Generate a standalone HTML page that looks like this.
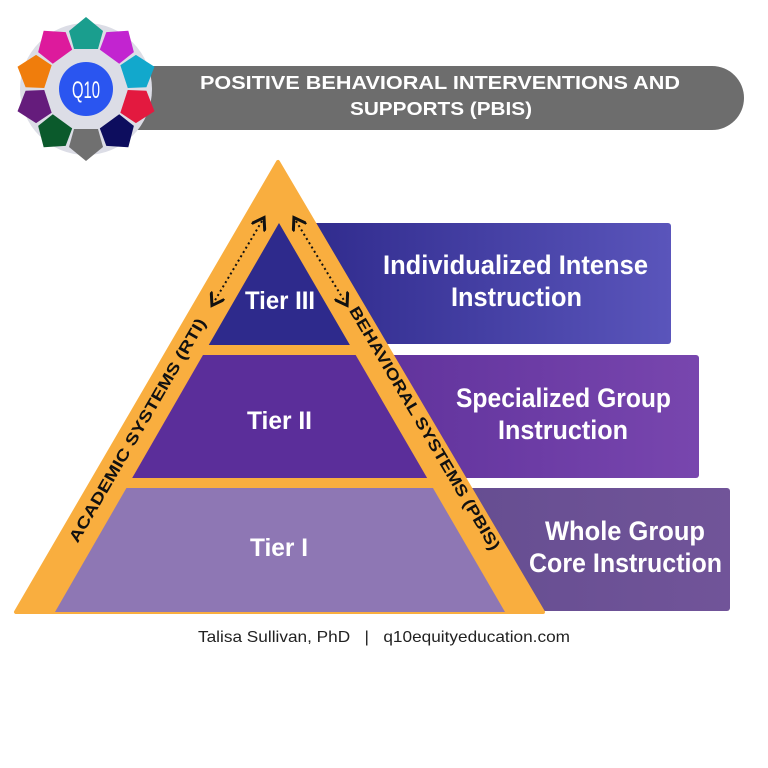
<!DOCTYPE html>
<html><head><meta charset="utf-8"><style>
html,body{margin:0;padding:0;background:#fff;width:768px;height:768px;overflow:hidden}
svg{display:block}
.t{font-family:"Liberation Sans",sans-serif;font-weight:bold;fill:#fff}
.s{font-family:"Liberation Sans",sans-serif;font-weight:bold;fill:#111;font-size:16px}
</style></head><body>
<svg width="768" height="768" viewBox="0 0 768 768" xmlns="http://www.w3.org/2000/svg">
<defs>
<linearGradient id="g1" x1="0" x2="1"><stop offset="0" stop-color="#2f2a8c"/><stop offset="1" stop-color="#5a55bb"/></linearGradient>
<linearGradient id="g2" x1="0" x2="1"><stop offset="0" stop-color="#5b2e98"/><stop offset="1" stop-color="#7846ae"/></linearGradient>
<linearGradient id="g3" x1="0" x2="1"><stop offset="0" stop-color="#5f4a8c"/><stop offset="1" stop-color="#715499"/></linearGradient>
<clipPath id="inner"><polygon points="279,223 55,612 505,612"/></clipPath>
<marker id="ah" markerWidth="8" markerHeight="8" refX="4" refY="4" orient="auto-start-reverse"><path d="M0,0 L6,4 L0,8" fill="none" stroke="#111" stroke-width="1.5"/></marker>
</defs>
<path d="M100,66 H712 A32,32 0 0 1 712,130 H100 Z" fill="#6d6d6d"/>
<text x="200" y="89" textLength="480" lengthAdjust="spacingAndGlyphs" font-family="Liberation Sans,sans-serif" font-weight="bold" font-size="18" fill="#fff">POSITIVE BEHAVIORAL INTERVENTIONS AND</text>
<text x="350" y="115" textLength="182" lengthAdjust="spacingAndGlyphs" font-family="Liberation Sans,sans-serif" font-weight="bold" font-size="18" fill="#fff">SUPPORTS (PBIS)</text>
<g transform="translate(86,89)">
<circle r="66" fill="#dcdde6"/>
<g>
<polygon points="-17,-58 0,-72 17,-58 12,-40 -12,-40" fill="#1a9e8e" transform="rotate(0)"/>
<polygon points="-17,-58 0,-72 17,-58 12,-40 -12,-40" fill="#c224d0" transform="rotate(36)"/>
<polygon points="-17,-58 0,-72 17,-58 12,-40 -12,-40" fill="#12a8cc" transform="rotate(72)"/>
<polygon points="-17,-58 0,-72 17,-58 12,-40 -12,-40" fill="#e3193f" transform="rotate(108)"/>
<polygon points="-17,-58 0,-72 17,-58 12,-40 -12,-40" fill="#0d0d5e" transform="rotate(144)"/>
<polygon points="-17,-58 0,-72 17,-58 12,-40 -12,-40" fill="#707070" transform="rotate(180)"/>
<polygon points="-17,-58 0,-72 17,-58 12,-40 -12,-40" fill="#0b5a2c" transform="rotate(216)"/>
<polygon points="-17,-58 0,-72 17,-58 12,-40 -12,-40" fill="#651c7c" transform="rotate(252)"/>
<polygon points="-17,-58 0,-72 17,-58 12,-40 -12,-40" fill="#f07d0c" transform="rotate(288)"/>
<polygon points="-17,-58 0,-72 17,-58 12,-40 -12,-40" fill="#dd1a9c" transform="rotate(324)"/>
</g>
<circle r="27" fill="#2a55f0"/>
<text x="-14" y="9" textLength="28" lengthAdjust="spacingAndGlyphs" font-family="Liberation Sans,sans-serif" font-size="24" fill="#fff">Q10</text>
</g>
<rect x="300" y="223" width="371" height="121" rx="3" fill="url(#g1)"/>
<rect x="300" y="355" width="399" height="123" rx="3" fill="url(#g2)"/>
<rect x="300" y="488" width="430" height="123" rx="3" fill="url(#g3)"/>
<polygon points="278,162 16,612 543,612" fill="#f9ae3f" stroke="#f9ae3f" stroke-width="4" stroke-linejoin="round"/>
<g clip-path="url(#inner)">
<rect x="0" y="200" width="600" height="145" fill="#2e2a8c"/>
<rect x="0" y="355" width="600" height="123" fill="#5b2e9a"/>
<rect x="0" y="488" width="600" height="124" fill="#8e77b4"/>
</g>
<line x1="262" y1="221" x2="214" y2="302" stroke="#111" stroke-width="2" stroke-dasharray="2,3" marker-start="url(#ah)" marker-end="url(#ah)"/>
<line x1="296" y1="221" x2="345" y2="302" stroke="#111" stroke-width="2" stroke-dasharray="2,3" marker-start="url(#ah)" marker-end="url(#ah)"/>
<text class="s" transform="translate(142,433) rotate(-59.8)" x="-128" textLength="256" lengthAdjust="spacingAndGlyphs">ACADEMIC SYSTEMS (RTI)</text>
<text class="s" transform="translate(420,431) rotate(59.4)" x="-140" textLength="280" lengthAdjust="spacingAndGlyphs">BEHAVIORAL SYSTEMS (PBIS)</text>
<text class="t" x="245" y="309" font-size="25" textLength="70" lengthAdjust="spacingAndGlyphs">Tier III</text>
<text class="t" x="247" y="429" font-size="25" textLength="65" lengthAdjust="spacingAndGlyphs">Tier II</text>
<text class="t" x="250" y="556" font-size="25" textLength="58" lengthAdjust="spacingAndGlyphs">Tier I</text>
<text class="t" x="383" y="274" font-size="27" textLength="265" lengthAdjust="spacingAndGlyphs">Individualized Intense</text>
<text class="t" x="451" y="306" font-size="27" textLength="131" lengthAdjust="spacingAndGlyphs">Instruction</text>
<text class="t" x="456" y="407" font-size="27" textLength="215" lengthAdjust="spacingAndGlyphs">Specialized Group</text>
<text class="t" x="498" y="439" font-size="27" textLength="130" lengthAdjust="spacingAndGlyphs">Instruction</text>
<text class="t" x="545" y="540" font-size="27" textLength="160" lengthAdjust="spacingAndGlyphs">Whole Group</text>
<text class="t" x="529" y="572" font-size="27" textLength="193" lengthAdjust="spacingAndGlyphs">Core Instruction</text>
<text x="198" y="642" textLength="372" lengthAdjust="spacingAndGlyphs" font-family="Liberation Sans,sans-serif" font-size="16" fill="#222" xml:space="preserve">Talisa Sullivan, PhD   |   q10equityeducation.com</text>
</svg>
</body></html>
